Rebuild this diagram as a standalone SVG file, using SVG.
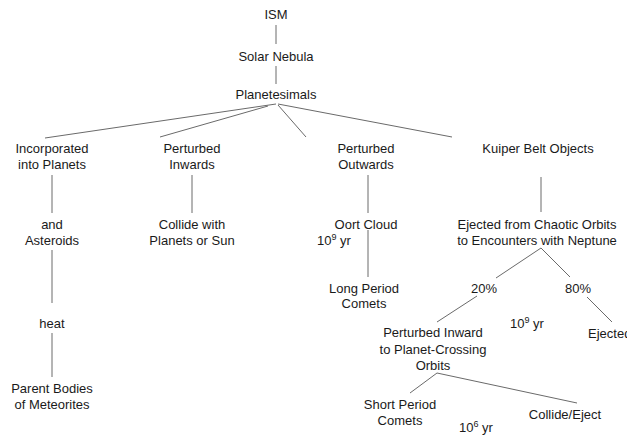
<svg xmlns="http://www.w3.org/2000/svg" width="627" height="436" viewBox="0 0 627 436">
<style>
text{font-family:"Liberation Sans",Arial,sans-serif;font-size:13px;fill:#1a1a1a;text-anchor:middle}
.l{text-anchor:start}
.sup{font-size:9px}
#connectors line{stroke:#6a6a6a;stroke-width:1;fill:none}
</style>
<rect width="627" height="436" fill="#fff"/>
<g id="connectors">
<line x1="276" y1="25" x2="276" y2="44"/>
<line x1="276" y1="66" x2="276" y2="84"/>
<line x1="276" y1="104" x2="45" y2="138"/>
<line x1="268" y1="106" x2="160" y2="137"/>
<line x1="278" y1="105" x2="306" y2="137"/>
<line x1="278" y1="104" x2="452" y2="137"/>
<line x1="52" y1="175" x2="52" y2="213"/>
<line x1="52" y1="250" x2="52" y2="303"/>
<line x1="52" y1="333" x2="52" y2="377"/>
<line x1="192" y1="175" x2="192" y2="213"/>
<line x1="368" y1="175" x2="368" y2="213"/>
<line x1="368" y1="230" x2="368" y2="277"/>
<line x1="541" y1="177" x2="541" y2="212"/>
<line x1="541" y1="248" x2="496" y2="278"/>
<line x1="541" y1="248" x2="570" y2="277"/>
<line x1="587" y1="297" x2="612" y2="322"/>
<line x1="477" y1="296" x2="437" y2="322"/>
<line x1="437" y1="373" x2="410" y2="393"/>
<line x1="437" y1="373" x2="577" y2="403"/>
</g>
<g id="ism"><text x="276" y="19">ISM</text></g>
<g id="solar-nebula"><text x="276" y="61">Solar Nebula</text></g>
<g id="planetesimals"><text x="276" y="99">Planetesimals</text></g>
<g id="incorporated"><text x="52" y="153">Incorporated</text><text x="52" y="169">into Planets</text></g>
<g id="asteroids"><text x="52" y="229">and</text><text x="52" y="245">Asteroids</text></g>
<g id="heat"><text x="52" y="328">heat</text></g>
<g id="parent-bodies"><text x="52" y="393">Parent Bodies</text><text x="52" y="409">of Meteorites</text></g>
<g id="perturbed-inwards"><text x="192" y="153">Perturbed</text><text x="192" y="169">Inwards</text></g>
<g id="collide-planets"><text x="192" y="229">Collide with</text><text x="192" y="245">Planets or Sun</text></g>
<g id="perturbed-outwards"><text x="366" y="153">Perturbed</text><text x="366" y="169">Outwards</text></g>
<g id="oort-cloud"><text x="366" y="229">Oort Cloud</text></g>
<g id="oort-time"><text class="l" x="317" y="245">10<tspan class="sup" dy="-5">9</tspan><tspan dy="5"> yr</tspan></text></g>
<g id="long-period"><text x="364" y="293">Long Period</text><text x="364" y="308">Comets</text></g>
<g id="kuiper"><text x="538" y="153">Kuiper Belt Objects</text></g>
<g id="ejected-chaotic"><text x="537" y="229">Ejected from Chaotic Orbits</text><text x="537" y="245">to Encounters with Neptune</text></g>
<g id="p20"><text x="484" y="293">20%</text></g>
<g id="p80"><text x="578" y="293">80%</text></g>
<g id="kuiper-time"><text class="l" x="510" y="328">10<tspan class="sup" dy="-5">9</tspan><tspan dy="5"> yr</tspan></text></g>
<g id="ejected"><text class="l" x="588" y="338">Ejected</text></g>
<g id="perturbed-inward"><text x="433" y="337">Perturbed Inward</text><text x="433" y="354">to Planet-Crossing</text><text x="433" y="370">Orbits</text></g>
<g id="short-period"><text x="400" y="409">Short Period</text><text x="400" y="425">Comets</text></g>
<g id="collide-eject"><text x="565" y="419">Collide/Eject</text></g>
<g id="short-time"><text class="l" x="459" y="432">10<tspan class="sup" dy="-5">6</tspan><tspan dy="5"> yr</tspan></text></g>
</svg>
